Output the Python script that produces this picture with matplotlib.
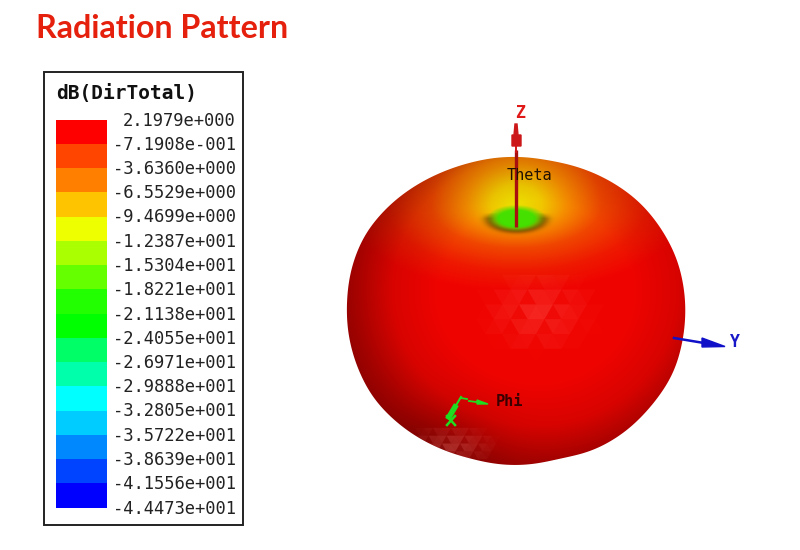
import numpy as np
import matplotlib
matplotlib.use('Agg')
import matplotlib.pyplot as plt
from matplotlib.patches import Rectangle, Polygon

# Legend values and colours
legend_labels = ['2.1979e+000', '-7.1908e-001', '-3.6360e+000', '-6.5529e+000', '-9.4699e+000',
                 '-1.2387e+001', '-1.5304e+001', '-1.8221e+001', '-2.1138e+001', '-2.4055e+001',
                 '-2.6971e+001', '-2.9888e+001', '-3.2805e+001', '-3.5722e+001', '-3.8639e+001',
                 '-4.1556e+001', '-4.4473e+001']
legend_colors = ['#ff0000', '#ff4500', '#ff8000', '#ffc400', '#eeff00', '#aaff00', '#66ff00', '#22ff00',
                 '#00ff00', '#00ff66', '#00ffaa', '#00ffff', '#00ccff', '#0088ff', '#0044ff', '#0000ff']

# Surface outline
outline_x = [516, 470, 443, 417, 387, 365, 352, 347, 348, 355, 373, 403, 437, 470, 516,
             560, 593, 623, 650, 673, 682, 685, 677, 663, 640, 613, 580, 550]
outline_y = [157, 163, 172, 185, 208, 235, 267, 307, 330, 360, 397, 427, 447, 458, 465,
             458, 450, 433, 407, 373, 343, 300, 260, 232, 203, 183, 168, 161]

# Colour stops of the glow around the hole at the top (distance in px, rgb)
glow_dist = [0, 25, 50, 85, 130, 170]
glow_r = [235, 240, 245, 240, 238, 240]
glow_g = [225, 200, 140, 70, 25, 4]
glow_b = [0, 0, 0, 0, 0, 0]

# Shading of the body (normalised distance from the light, brightness)
shade_dist = [0.0, 0.5, 0.75, 0.95, 1.1]
shade_val = [1.0, 1.0, 0.9, 0.68, 0.55]

fig = plt.figure(figsize=(8, 5.5), dpi=100)
ax = fig.add_axes([0, 0, 1, 1])
ax.set_xlim(0, 800)
ax.set_ylim(550, 0)
ax.axis('off')

ax.text(36, 28, 'Radiation Pattern', color='#e5200c', fontsize=23.2, fontweight='bold',
        family='Lato', va='center', ha='left')

# Legend
ax.add_patch(Rectangle((44, 72), 199, 453, fc='white', ec='#222222', lw=1.4))
ax.text(56, 94, 'dB(DirTotal)', family='DejaVu Sans Mono', fontweight='bold', fontsize=14,
        va='center', ha='left', color='#111111')
label_y = np.linspace(119.5, 507.5, len(legend_labels))
for i, c in enumerate(legend_colors):
    ax.add_patch(Rectangle((56, label_y[i]), 51, label_y[i + 1] - label_y[i], fc=c, ec='none'))
for y, lab in zip(label_y, legend_labels):
    ax.text(236, y + 1, lab, family='DejaVu Sans Mono', fontsize=12.3, va='center', ha='right', color='#222222')

# Surface
xx, yy = np.meshgrid(np.arange(330, 700), np.arange(145, 475))
dy = yy - 205.0
dist = np.sqrt((xx - 516.0) ** 2 + (dy / np.where(dy < 0, 0.85, 0.5)) ** 2)
img = np.dstack([np.interp(dist, glow_dist, glow_r),
                 np.interp(dist, glow_dist, glow_g),
                 np.interp(dist, glow_dist, glow_b)]) / 255.0

light = np.sqrt(((xx - 535.0) / 190) ** 2 + ((yy - 290.0) / 180) ** 2)
shade = np.interp(light, shade_dist, shade_val)
shade = shade * (1 - 0.15 * np.exp(-(((xx - 440.0) / 60) ** 2 + ((yy - 450.0) / 45) ** 2)))
img = img * shade[..., None]

# green bottom of the hole with its dark rim
hole = np.sqrt(((xx - 516.0) / 24) ** 2 + ((yy - 218.0) / 11) ** 2)
green = np.clip((1.25 - hole) / 0.5, 0, 1)[..., None]
img = img * (1 - green) + np.array([70, 225, 0]) / 255.0 * green
rim = np.exp(-((hole - 1.15) / 0.25) ** 2) * np.clip((yy - 212) / 6.0, 0, 1)
img = img * (1 - 0.35 * rim[..., None])

im = ax.imshow(img, extent=(330, 700, 475, 145), interpolation='bilinear', zorder=2)
ax.set_xlim(0, 800)
ax.set_ylim(550, 0)
ax.set_aspect('auto')

# smooth the read outline in polar form so that the edge does not look faceted
ox = np.array(outline_x, dtype=float) - 516
oy = np.array(outline_y, dtype=float) - 311
ang = np.arctan2(oy, ox)
order = np.argsort(ang)
th = np.linspace(-np.pi, np.pi, 720, endpoint=False)
rad = np.interp(th, ang[order], np.hypot(ox, oy)[order], period=2 * np.pi)
kernel = np.hanning(41)
kernel = kernel / kernel.sum()
rad = np.convolve(np.r_[rad[-60:], rad, rad[:60]], kernel, mode='same')[60:-60]
body = Polygon(np.column_stack([516 + rad * np.cos(th), 311 + rad * np.sin(th)]), closed=True,
               transform=ax.transData, fc='none', ec='none')
ax.add_patch(body)
im.set_clip_path(body)


# Faint mesh triangles on the front and at the bottom
def mesh(cx, cy, rx, ry, size, col, strength):
    h = size * 0.87
    for row, gy in enumerate(np.arange(cy - ry, cy + ry, h)):
        for col_i, gx in enumerate(np.arange(cx - rx, cx + rx, size / 2)):
            r = np.hypot((gx - cx) / rx, (gy - cy) / ry)
            if r >= 1:
                continue
            a = strength * (1 - r) * (1 if (row + col_i) % 4 else 0.3)
            if (row + col_i) % 2:
                pts = [(gx, gy), (gx + size, gy), (gx + size / 2, gy + h)]
            else:
                pts = [(gx, gy + h), (gx + size, gy + h), (gx + size / 2, gy)]
            tri = Polygon(pts, fc=col, ec='none', alpha=a, zorder=3)
            ax.add_patch(tri)
            tri.set_clip_path(body)


mesh(530, 305, 62, 45, 17, '#ff5a50', 0.4)
mesh(447, 442, 50, 22, 9, '#ff8a80', 0.32)

# Z axis
ax.plot([516, 516], [227, 150], color='#a80f0f', lw=2.4, zorder=4, solid_capstyle='butt')
ax.plot([516, 516], [152, 126], color='#d01818', lw=1.4, zorder=4)
ax.fill([512, 521, 521, 518, 517, 515, 514, 512], [146, 146, 135, 135, 124, 124, 135, 135],
        color='#cc1818', zorder=4)
ax.text(520, 113, 'Z', color='#e01818', family='DejaVu Sans Mono', fontweight='bold', fontsize=12,
        ha='center', va='center', zorder=5)
ax.text(529, 175, 'Theta', color='#221100', family='DejaVu Sans Mono', fontsize=11,
        ha='center', va='center', zorder=5)

# Phi axis
ax.plot([449, 455], [417, 407], color='#20dc20', lw=4, zorder=4)
ax.plot([455, 461], [407, 397], color='#20dc20', lw=1.5, zorder=4)
ax.plot([461, 467], [398, 399], color='#20dc20', lw=1.3, zorder=4)
ax.plot([469, 476], [401, 402], color='#20dc20', lw=1.3, zorder=4)
ax.fill([477, 488, 477], [400, 404, 404], color='#20dc20', zorder=4)
ax.plot([447, 455], [425, 416], color='#20dc20', lw=1.8, zorder=4)
ax.plot([447, 455], [416, 425], color='#20dc20', lw=1.8, zorder=4)
ax.text(509, 401, 'Phi', color='#3a0000', family='DejaVu Sans Mono', fontweight='bold', fontsize=11,
        ha='center', va='center', zorder=5)

# Y axis
ax.plot([674, 704], [338, 343], color='#1010c8', lw=1.8, zorder=4)
ax.fill([702, 725, 702], [338, 346.5, 347], color='#1010c8', zorder=4)
ax.text(735, 342, 'Y', color='#1818c8', family='DejaVu Sans Mono', fontweight='bold', fontsize=12,
        ha='center', va='center', zorder=5)

fig.savefig('out.png', dpi=100)
